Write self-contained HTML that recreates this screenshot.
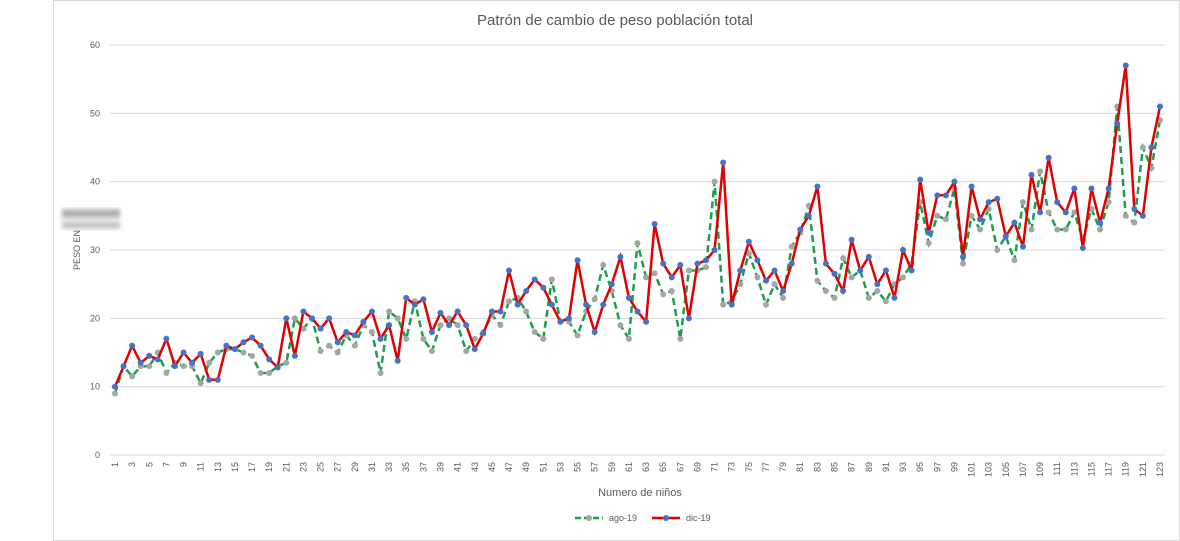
<!DOCTYPE html>
<html><head><meta charset="utf-8"><style>
html,body{margin:0;padding:0;background:#fff;}
svg{display:block;font-family:"Liberation Sans",sans-serif;}
</style></head><body>
<svg id="c" width="1180" height="541" viewBox="0 0 1180 541" xmlns="http://www.w3.org/2000/svg">
<defs><filter id="bl"><feGaussianBlur stdDeviation="2"/></filter></defs>
<rect x="53.5" y="0.5" width="1126" height="540" fill="#fff" stroke="#d9d9d9"/>
<text x="615" y="25" font-size="15" fill="#595959" text-anchor="middle">Patrón de cambio de peso población total</text>
<g filter="url(#bl)"><rect x="62" y="209" width="58" height="9" fill="#b0b0b0"/><rect x="62" y="221" width="58" height="8" fill="#c8c8c8"/></g>
<text transform="translate(80,250) rotate(-90)" font-size="9" fill="#595959" text-anchor="middle">PESO EN</text>
<text x="640" y="496" font-size="11" fill="#595959" text-anchor="middle">Numero de niños</text>
<g id="g"></g>
<g font-size="9" fill="#595959">
<line x1="575" y1="518" x2="603" y2="518" stroke="#1e9e4a" stroke-width="2.5" stroke-dasharray="6,3"/>
<circle cx="589" cy="518" r="3" fill="#a5a5a5"/>
<text x="609" y="521">ago-19</text>
<line x1="652" y1="518" x2="680" y2="518" stroke="#e00000" stroke-width="2.5"/>
<circle cx="666" cy="518" r="3" fill="#4472c4"/>
<text x="686" y="521">dic-19</text>
</g>
</svg>
<script>
var red=[10,13,16,13.5,14.5,14,17,13,15,13.5,14.8,11,11,16,15.5,16.5,17.2,16,14,12.8,
20,14.5,21,20,18.5,20,16.5,18,17.5,19.5,21,17,19,13.8,23,22,22.8,18,20.8,19,
21,19,15.5,17.8,21,21,27,22,24,25.7,24.5,22,19.5,20,28.5,22,18,22,25,29,
23,21,19.5,33.8,28,26,27.8,20,28,28.5,30,42.8,22,27,31.2,28.5,25.5,27,24,28,
33,35,39.3,28,26.5,24,31.5,27,29,25,27,23,30,27,40.3,32.5,38,38,40,29,
39.3,34.5,37,37.5,32,34,30.5,41,35.5,43.5,37,35.5,39,30.3,39,34,39,48.5,57,36,35,45,51];
var ago=[9,13,11.5,13,13,15,12,13.5,13,13,10.5,13.5,15,15.5,15.5,15,14.5,12,12,13,
13.5,20,18.5,20,15.2,16,15,17.5,16,19,18,12,21,20,17,22.5,17,15.2,19,20,
19,15.2,17,18,20.5,19,22.5,23,21,18,17,25.7,19.5,19.5,17.5,21,22.8,27.8,24,19,
17,31,26,26.6,23.5,24,17,27,27,27.5,40,22,22.5,25,29.5,26,22,25,23,30.5,
32.5,36.5,25.5,24,23,28.8,26,27,23,24,22.5,25,26,28,37,31,35,34.5,39,28,
35,33,36,30,32,28.5,37,33,41.5,35.5,33,33,35.5,31.5,36,33,37,51,35,34,45,42,49];
var X=function(i){return 115+i*1045/122},Y=function(v){return 455-v*410/60};
var s='';
for(var k=0;k<=6;k++){var y=Y(k*10);
 s+='<line x1="110" x2="1165" y1="'+y+'" y2="'+y+'" stroke="#d9d9d9"/>';
 s+='<text x="100" y="'+(y+3)+'" font-size="9" fill="#595959" text-anchor="end">'+(k*10)+'</text>';}
for(var i=0;i<123;i+=2){var x=X(i);
 s+='<text transform="translate('+(x+3)+',462) rotate(-90)" font-size="9" fill="#595959" text-anchor="end">'+(i+1)+'</text>';}
function pts(a){return a.map(function(v,i){return X(i).toFixed(1)+','+Y(v).toFixed(1)}).join(' ')}
s+='<polyline points="'+pts(ago)+'" fill="none" stroke="#1e9e4a" stroke-width="2.5" stroke-dasharray="7,4"/>';
ago.forEach(function(v,i){s+='<circle cx="'+X(i)+'" cy="'+Y(v)+'" r="3" fill="#a5a5a5"/>'});
s+='<polyline points="'+pts(red)+'" fill="none" stroke="#e00000" stroke-width="2.5"/>';
red.forEach(function(v,i){s+='<circle cx="'+X(i)+'" cy="'+Y(v)+'" r="3" fill="#4472c4"/>'});
document.getElementById('g').innerHTML=s;
</script>
</body></html>
